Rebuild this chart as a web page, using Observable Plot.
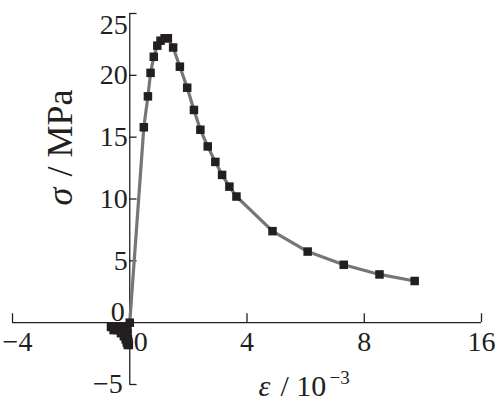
<!DOCTYPE html>
<html>
<head>
<meta charset="utf-8">
<script src="https://cdn.jsdelivr.net/npm/d3@7"></script>
<script src="https://cdn.jsdelivr.net/npm/@observablehq/plot@0.6"></script>
<style>
  html, body { margin: 0; padding: 0; background: #fff; }
  svg { display: block; }
</style>
</head>
<body>
<div id="chart"></div>
<script>
// strain (10^-3) and stress (MPa) along the tensile curve
const strain = [0, 0.48, 0.62, 0.71, 0.82, 0.94, 1.05, 1.19, 1.30, 1.48, 1.71, 1.96, 2.19, 2.41, 2.66, 2.92, 3.15, 3.40, 3.64, 4.87, 6.07, 7.30, 8.52, 9.72];
const stress = [0, 15.8, 18.3, 20.2, 21.5, 22.4, 22.8, 23.0, 23.0, 22.25, 20.7, 19.0, 17.2, 15.6, 14.25, 13.0, 11.95, 11.0, 10.2, 7.4, 5.75, 4.68, 3.9, 3.37];
// dense points below the axis near the origin
const negStrain = [-0.64, -0.52, -0.4, -0.28, -0.16, -0.55, -0.42, -0.3, -0.18, -0.08, -0.3, -0.2, -0.08, -0.2, -0.1, -0.14, -0.06, -0.1, -0.04, -0.07, -0.03];
const negStress = [-0.35, -0.35, -0.35, -0.35, -0.35, -0.6, -0.6, -0.6, -0.6, -0.6, -0.85, -0.85, -0.85, -1.1, -1.1, -1.35, -1.35, -1.6, -1.6, -1.8, -1.8];

// axis ticks (the last x tick is labelled "16" in the original)
const xTickValues = [-4, 0, 4, 8, 12];
const xTickLabels = ["−4", "0", "4", "8", "16"];
const yTickValues = [-5, 0, 5, 10, 15, 20, 25];
const yTickLabels = ["−5", "0", "5", "10", "15", "20", "25"];

const curve = strain.map((x, i) => ({x, y: stress[i]}));
const neg = negStrain.map((x, i) => ({x, y: negStress[i]}));
const xLab = xTickValues.map((v, i) => ({v, t: xTickLabels[i]}));
const yLab = yTickValues.map((v, i) => ({v, t: yTickLabels[i]}));

const font = "'Liberation Serif', 'Times New Roman', serif";
const tickSize = 28;
const ink = "#231f20";

const plot = Plot.plot({
  width: 500,
  height: 403,
  marginLeft: 12,
  marginRight: 19,
  marginTop: 13,
  marginBottom: 19,
  x: {domain: [-4, 12], axis: null},
  y: {domain: [-5, 25], axis: null},
  style: {fontFamily: font, background: "#fff", overflow: "visible"},
  marks: [
    // axes lines
    Plot.ruleY([0], {x1: -4, x2: 12, stroke: ink, strokeWidth: 1.3}),
    Plot.ruleX([0], {y1: -5, y2: 25, stroke: ink, strokeWidth: 1.3}),
    // tick marks
    Plot.ruleX(xTickValues.filter(d => d !== 0), {x: d => d, y1: 0, y2: 0.72, stroke: ink, strokeWidth: 1.3}),
    Plot.ruleY(yTickValues.filter(d => d !== 0), {y: d => d, x1: 0, x2: 0.25, stroke: ink, strokeWidth: 1.3}),
    // x tick labels
    Plot.text(xLab.filter(d => d.v >= 4), {x: "v", y: 0, text: "t", dy: 28, lineAnchor: "bottom", fontSize: tickSize, fill: ink}),
    Plot.text(xLab.filter(d => d.v === -4), {x: "v", y: 0, text: "t", dx: 5, dy: 28, lineAnchor: "bottom", fontSize: tickSize, fill: ink}),
    Plot.text(xLab.filter(d => d.v === 0), {x: "v", y: 0, text: "t", dx: 4, dy: 28, textAnchor: "start", lineAnchor: "bottom", fontSize: tickSize, fill: ink}),
    // y tick labels
    Plot.text(yLab.filter(d => d.v > 0 && d.v < 25), {x: 0, y: "v", text: "t", dx: -2, textAnchor: "end", lineAnchor: "middle", fontSize: tickSize, fill: ink}),
    Plot.text(yLab.filter(d => d.v === 25), {x: 0, y: "v", text: "t", dx: -2, dy: 20, textAnchor: "end", lineAnchor: "bottom", fontSize: tickSize, fill: ink}),
    Plot.text(yLab.filter(d => d.v === 0), {x: 0, y: "v", text: "t", dx: -5, dy: -2, textAnchor: "end", lineAnchor: "bottom", fontSize: tickSize, fill: ink}),
    Plot.text(yLab.filter(d => d.v === -5), {x: 0, y: "v", text: "t", dx: -7, textAnchor: "end", lineAnchor: "middle", fontSize: tickSize, fill: ink}),
    // data
    Plot.line(curve, {x: "x", y: "y", stroke: "#767676", strokeWidth: 3.2}),
    Plot.dot(curve, {x: "x", y: "y", symbol: "square", r: 4.8, fill: ink}),
    Plot.dot(neg, {x: "x", y: "y", symbol: "square", r: 4.8, fill: ink}),
    // x axis title: ε / 10^-3
    Plot.text(["ε"], {frameAnchor: "top-left", dx: 246, dy: 382, text: d => d, textAnchor: "start", lineAnchor: "bottom", fontSize: 30, fontStyle: "italic", fill: ink}),
    Plot.text(["/ 10"], {frameAnchor: "top-left", dx: 268, dy: 382, text: d => d, textAnchor: "start", lineAnchor: "bottom", fontSize: 30, fill: ink}),
    Plot.text(["−3"], {frameAnchor: "top-left", dx: 317, dy: 370, text: d => d, textAnchor: "start", lineAnchor: "bottom", fontSize: 19, fill: ink}),
    // y axis title: σ / MPa (rotated)
    Plot.text(["σ"], {frameAnchor: "top-left", dx: 59, dy: 192, text: d => d, rotate: -90, textAnchor: "start", lineAnchor: "bottom", fontSize: 36, fontStyle: "italic", fill: ink}),
    Plot.text(["/ MPa"], {frameAnchor: "top-left", dx: 59, dy: 163, text: d => d, rotate: -90, textAnchor: "start", lineAnchor: "bottom", fontSize: 36, fill: ink})
  ]
});
document.getElementById("chart").appendChild(plot);
</script>
</body>
</html>
